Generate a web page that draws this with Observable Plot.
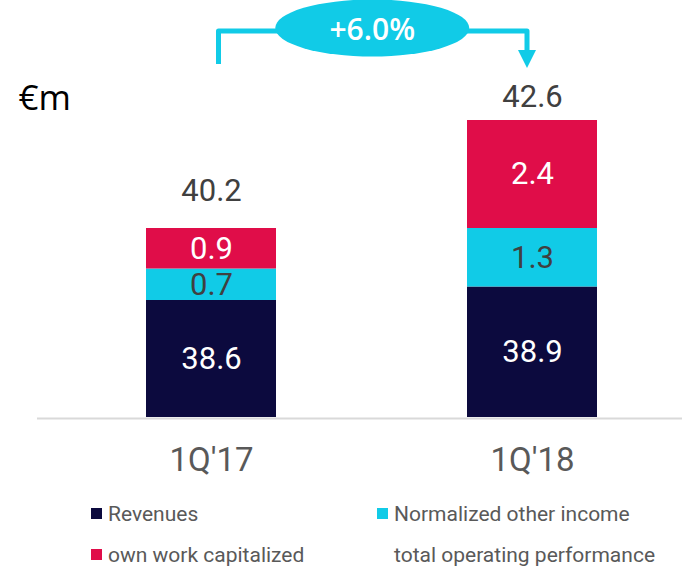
<!DOCTYPE html>
<html><head><meta charset="utf-8">
<script src="https://cdn.jsdelivr.net/npm/d3@7"></script>
<script src="https://cdn.jsdelivr.net/npm/@observablehq/plot@0.6"></script>
<style>
body{margin:0;background:#fff;font-family:Roboto,sans-serif;}
#chart{position:relative;width:682px;}
.legend{display:grid;grid-template-columns:286px auto;padding-left:91px;margin-top:13px;font-size:21px;color:#595959;}
.legend div{height:41px;display:flex;align-items:center;white-space:nowrap;}
.sw{width:11px;height:11px;margin-right:6px;display:inline-block;flex:none;}
</style></head><body><div id="chart"></div>
<script>
const quarters = ["1Q'17", "1Q'18"];
const series = ["Revenues", "Normalized other income", "own work capitalized"];
const revenues = [38.6, 38.9];
const otherIncome = [0.7, 1.3];
const ownWork = [0.9, 2.4];
const totals = [40.2, 42.6];
const growthLabel = "+6.0%";
const unitLabel = "€m";
const legendNames = ["Revenues", "Normalized other income", "own work capitalized", "total operating performance"];
const legendColors = ["#0c0a3e", "#11cbe7", "#e00d49", "#ffffff"];
const yBase = 36; // broken axis start

const cyan = legendColors[1];
const rows = [];
quarters.forEach((q, i) => {
  let acc = yBase;
  [revenues[i], otherIncome[i], ownWork[i]].forEach((v, k) => {
    const y1 = k === 0 ? yBase : acc;
    const y2 = k === 0 ? v : acc + v;
    rows.push({q, series: series[k], value: v, y1, y2});
    acc = y2;
  });
});
const totalRows = quarters.map((q, i) => ({q, total: totals[i]}));

function growthArrow(index, scales) {
  const x = scales.x;
  const bw = x.bandwidth ? x.bandwidth() : 130;
  const xl = x(quarters[0]) + bw / 2 + 7.5;
  const xr = x(quarters[1]) + bw / 2 - 5;
  const yLine = 31;
  const g = d3.create("svg:g");
  g.append("path").attr("d", `M${xl},64V${yLine}H${xr}V52`)
    .attr("fill", "none").attr("stroke", cyan).attr("stroke-width", 5).attr("stroke-linejoin", "round");
  g.append("path").attr("d", `M${xr - 9},50L${xr + 9},50L${xr},68Z`).attr("fill", cyan);
  const cx = (xl + xr) / 2 - 0.5;
  g.append("ellipse").attr("cx", cx).attr("cy", 28).attr("rx", 97).attr("ry", 28.5).attr("fill", cyan);
  g.append("text").attr("x", cx).attr("y", 29).attr("dy", "0.36em").attr("text-anchor", "middle")
    .attr("fill", "white").attr("font-size", 30).attr("font-weight", 600).attr("font-family", "Open Sans")
    .text(growthLabel);
  return g.node();
}

const chart = Plot.plot({
  width: 682, height: 480,
  marginTop: 0, marginBottom: 63, marginLeft: 37, marginRight: 0,
  style: {fontFamily: "Roboto", background: "transparent", overflow: "visible"},
  x: {domain: quarters, range: [145, 597], paddingInner: 0.596, paddingOuter: 0, axis: null},
  y: {domain: [yBase, yBase + 417 / 45], axis: null},
  color: {domain: series, range: legendColors.slice(0, 3)},
  marks: [
    Plot.ruleY([yBase], {stroke: "#d9d9d9", strokeWidth: 2, dy: 1}),
    Plot.barY(rows, {x: "q", y1: "y1", y2: "y2", fill: "series"}),
    Plot.text(rows.filter(d => d.series !== series[1]), {x: "q", y: d => (d.y1 + d.y2) / 2, text: d => d.value.toFixed(1), fill: "white", fontSize: 31}),
    Plot.text(rows.filter(d => d.series === series[1]), {x: "q", y: d => (d.y1 + d.y2) / 2, text: d => d.value.toFixed(1), fill: "#404040", fontSize: 31}),
    Plot.text(totalRows.slice(0, 1), {x: "q", y: "total", text: d => d.total.toFixed(1), dy: -37, fill: "#404040", fontSize: 31}),
    Plot.text(totalRows.slice(1), {x: "q", y: "total", text: d => d.total.toFixed(1), dy: -23, fill: "#404040", fontSize: 31}),
    Plot.text(quarters, {x: d => d, y: () => yBase, text: d => d, dy: 43, fill: "#595959", fontSize: 33}),
    Plot.text([unitLabel], {frameAnchor: "top-left", lineAnchor: "middle", dx: -19, dy: 98, text: d => d, fill: "#000", fontSize: 35, fontFamily: "Open Sans", textAnchor: "start"}),
    growthArrow
  ]
});
const root = document.getElementById("chart");
root.appendChild(chart);
const legend = document.createElement("div");
legend.className = "legend";
legendNames.forEach((n, i) => {
  const item = document.createElement("div");
  const sw = document.createElement("span");
  sw.className = "sw";
  sw.style.background = legendColors[i];
  item.appendChild(sw);
  item.appendChild(document.createTextNode(n));
  legend.appendChild(item);
});
root.appendChild(legend);
</script>
</body></html>
